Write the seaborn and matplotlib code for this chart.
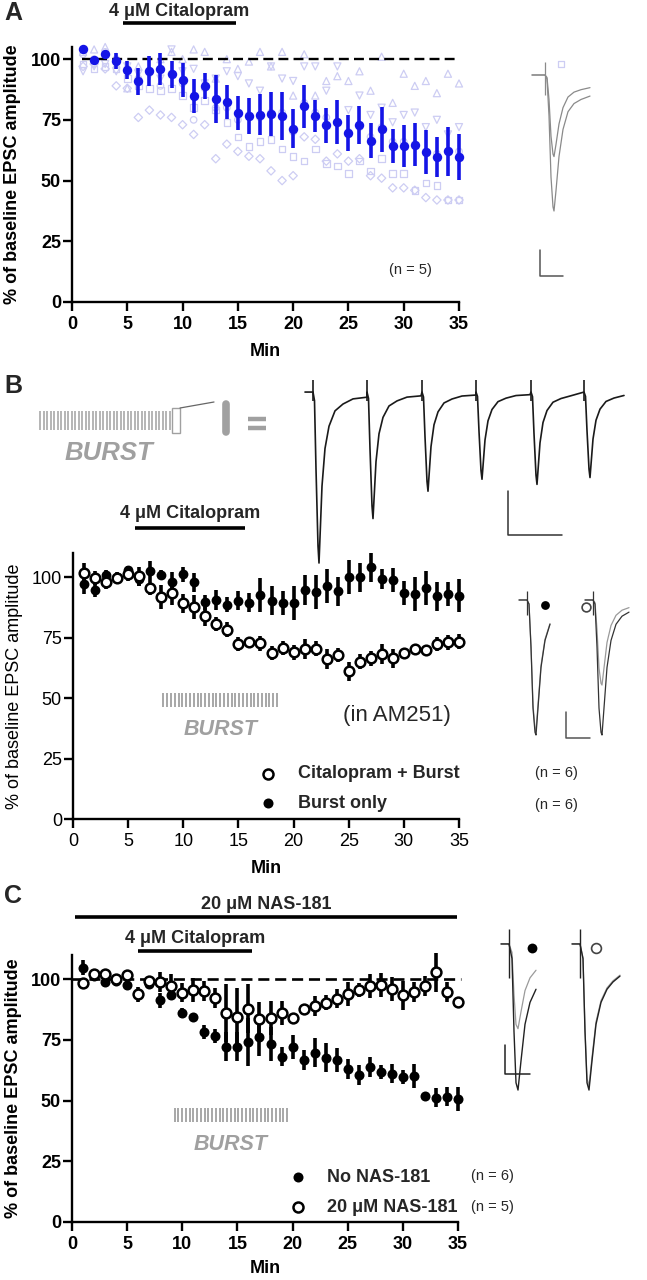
import numpy as np
import pandas as pd
import matplotlib
matplotlib.use("Agg")
import matplotlib.pyplot as plt
import seaborn as sns

sns.set_theme(style="ticks")
plt.rcParams["font.family"] = ["Liberation Sans", "DejaVu Sans"]

# ---------------- data ----------------
MINUTES = list(range(1, 36))
BASELINE = 100

# Panel A: mean +/- SEM and the five individual cells
A_MEAN = [104.1, 99.7, 102.3, 99.3, 95.6, 90.9, 95.2, 95.9, 93.7, 91.5, 85.0, 88.9, 83.5, 82.4, 77.7,
          76.6, 77.2, 77.4, 76.6, 71.4, 80.5, 76.6, 72.8, 74.1, 69.5, 72.8, 66.3, 71.1, 64.1, 64.1,
          64.8, 61.8, 59.8, 62.0, 59.6]
A_SEM = [0.5, 0.5, 0.5, 3.4, 3.8, 5.5, 6.2, 6.6, 5.5, 7.0, 7.0, 5.2, 10.0, 7.0, 7.0, 7.4, 8.3, 9.0,
         10.0, 8.0, 9.0, 6.6, 7.2, 9.0, 7.4, 7.8, 7.2, 9.3, 7.0, 8.7, 9.0, 9.0, 8.2, 10.0, 9.4]
A_CELL_UP = [103, 104, 105, 101, 88, 97, 96, 100, 103, 100, 104, 103, 92, 100, 96, 99, 103, 97, 103,
             85, 102, 85, 91, 93, 91, 95, 87, 101, 82, 94, 89, 91, 86, 94, 90]
A_CELL_DOWN = [95, 97, 98, 95, 97, 94, 93, 92, 104, 95, 96, 90, 92, 95, 93, 90, 87, 97, 92, 91, 97,
               97, 87, 97, 79, 85, 77, 80, 74, 77, 78, 72, 75, 69, 72]
A_CELL_DIAMOND = [97, 98, 96, 89, 88, 76, 79, 77, 76, 73, 69, 73, 59, 65, 62, 60, 59, 54, 50, 52, 68,
                  67, 58, 61, 58, 59, 52, 51, 47, 47, 46, 43, 42, 42, 42]
A_CELL_SQUARE = [98, 96, 97, 96, 92, 89, 88, 87, 88, 85, 80, 83, 79, 74, 68, 64, 66, 67, 63, 60, 58,
                 63, 57, 56, 53, 58, 54, 59, 53, 53, 46, 49, 48, 42, 42]
A_CELL_CIRCLE = [102, 100, 103, 100, 96, 92, 95, 89, 94, 90, 75, 88, 80, 80, 75, 77, 76, 78, 78, 70,
                 82, 78, 76, 74, 70, 72, 68, 72, 66, 66, 65, 62, 61, 62, 62]

# Panel B
B_CIT_BURST = [101.8, 99.7, 98.2, 99.6, 101.4, 100.3, 95.6, 91.7, 93.4, 89.2, 87.6, 83.8, 80.6, 78.3,
               72.3, 73.3, 72.6, 68.6, 70.7, 68.9, 70.3, 70.5, 66.1, 67.8, 61.0, 65.1, 66.4, 68.2,
               66.4, 68.5, 70.5, 69.8, 72.3, 73.0, 73.3]
B_CIT_BURST_SEM = [4, 3, 3, 2, 3, 4, 3, 5, 5, 4, 5, 4, 3, 3, 3, 2, 3, 3, 3, 3, 4, 3, 4, 3, 4, 3, 3, 4,
                   4, 2, 2, 2, 3, 3, 3]
B_BURST_ONLY = [97.0, 94.9, 101.0, 100.0, 102.8, 99.3, 102.5, 101.1, 98.2, 101.2, 97.9, 89.6, 90.6,
                88.7, 90.3, 89.4, 92.8, 90.3, 89.2, 89.2, 94.7, 93.8, 96.3, 94.1, 100.0, 100.0, 104.1,
                99.3, 98.8, 93.5, 93.1, 95.7, 92.1, 93.2, 92.4]
B_BURST_ONLY_SEM = [4, 3, 2, 2, 2, 3, 4, 2, 4, 3, 4, 3, 4, 3, 4, 4, 7, 6, 5, 7, 6, 7, 7, 6, 7, 6, 6, 4,
                    5, 5, 7, 7, 6, 5, 7]

# Panel C
C_NO_NAS = [104.8, 101.4, 98.9, 99.3, 97.5, 93.8, 98.2, 91.3, 93.4, 86.2, 84.5, 78.3, 76.6, 72.2,
            72.2, 74.1, 76.3, 73.2, 68.1, 72.2, 66.7, 69.7, 67.7, 66.7, 63.1, 60.5, 63.8, 61.8, 61.1,
            59.8, 60.1, 52.1, 51.2, 51.6, 50.8]
C_NO_NAS_SEM = [3, 2, 2, 2, 2, 3, 2, 3, 2, 2, 1, 3, 3, 6, 6, 10, 8, 7, 4, 5, 4, 6, 6, 5, 4, 4, 4, 3, 4,
                3, 5, 1, 4, 4, 5]
C_NAS = [98.6, 102.0, 102.3, 100.0, 101.7, 94.0, 99.3, 98.9, 97.2, 94.5, 95.6, 95.2, 92.2, 86.0, 84.6,
         87.9, 83.8, 84.2, 86.0, 84.2, 87.6, 89.0, 90.4, 92.0, 93.8, 95.6, 97.2, 97.7, 95.9, 93.4,
         94.8, 97.2, 102.8, 94.8, 90.8]
C_NAS_SEM = [2, 1, 2, 1, 1, 2, 2, 4, 5, 4, 5, 4, 4, 12, 12, 10, 7, 7, 5, 2, 2, 4, 3, 4, 5, 3, 5, 5, 5,
             6, 4, 4, 8, 4, 2]

# drug / stimulation periods (min)
A_CITALOPRAM = (4.6, 14.8)
B_CITALOPRAM = (5.6, 15.6)
B_BURST = (8.2, 18.5)
C_NAS_PERIOD = (0.3, 34.9)
C_CITALOPRAM = (6.0, 16.3)
C_BURST = (9.3, 19.5)

# example-trace waveforms (time in ms, current normalised to the largest peak)
SLOW_T = [0, 2, 4, 6, 8, 9, 11, 14, 18, 23, 29, 36, 45]
SLOW_V = [0, -0.03, -0.3, -0.75, -0.97, -1.0, -0.85, -0.6, -0.4, -0.27, -0.21, -0.18, -0.155]
FAST_T = [0, 1.5, 3, 5, 6, 7, 9, 12, 16, 22, 30, 40, 54]
FAST_V = [0, -0.05, -0.45, -0.9, -1.0, -0.85, -0.55, -0.33, -0.2, -0.11, -0.07, -0.04, -0.03]
MED_T = [0, 2, 4, 6, 8, 9, 11, 14, 18, 23, 29, 36, 48]
MED_V = [0, -0.03, -0.35, -0.8, -0.98, -1.0, -0.8, -0.5, -0.3, -0.18, -0.12, -0.09, -0.07]
C_T = [0, 3, 5, 7, 9, 12, 16, 21, 27, 33, 40, 50]
C_V = [0, -0.1, -0.6, -0.95, -1.0, -0.8, -0.55, -0.4, -0.31, -0.26, -0.22, -0.18]

A_TRACE_AMPS = [1.0, 0.6]
TRAIN_STIMS = [0, 54, 109, 163, 218, 271]
TRAIN_AMPS = [1.0, 0.74, 0.58, 0.51, 0.54, 0.50]
B_TRACE_STIMS = [0, 66]
B_TRACE_AMPS_BLACK = [1.0, 1.0]
B_TRACE_AMPS_GRAY = [0.97, 0.63]
C_TRACE_STIMS = [0, 71]
C_TRACE_AMPS_BLACK = [1.0, 1.0]
C_TRACE_AMPS_GRAY = [0.58, 0.97]

# ---------------- figure ----------------
W, H = 647, 1280
fig = plt.figure(figsize=(W / 100, H / 100), dpi=100)


def rect(x0, y0, x1, y1):
    return [x0 / W, 1 - y1 / H, (x1 - x0) / W, (y1 - y0) / H]


BLUE = "#1414e6"
LIGHT = "#cdcdf3"
GRAY = "#a0a0a0"


def style(ax, ymax, bold, lab_x, xlab_y):
    ax.set_facecolor("none")
    ax.set_xlim(0, 35)
    ax.set_ylim(0, ymax)
    ax.set_xticks(range(0, 36, 5))
    ax.set_yticks([0, 25, 50, 75, 100])
    for s in ["top", "right"]:
        ax.spines[s].set_visible(False)
    for s in ["left", "bottom"]:
        ax.spines[s].set_linewidth(1.7)
        ax.spines[s].set_color("black")
    ax.tick_params(length=6.5, width=1.7, color="black", labelsize=13, labelcolor="black")
    ax.tick_params(axis="x", pad=3.5)
    ax.tick_params(axis="y", pad=1.5)
    w = "bold" if bold else "normal"
    for lab in ax.get_xticklabels() + ax.get_yticklabels():
        lab.set_fontweight(w)
    ax.set_xlabel("Min", fontsize=13, fontweight="bold", color="black")
    ax.set_ylabel("% of baseline EPSC amplitude", fontsize=13, fontweight=w, color="black")
    ax.yaxis.set_label_coords(lab_x, 0.5)
    ax.xaxis.set_label_coords(0.5, xlab_y)


def means(ax, y, err, face, edge, s, zo):
    ax.errorbar(MINUTES, y, yerr=err, fmt="none", ecolor=edge, elinewidth=2.6, capsize=0,
                zorder=zo, clip_on=False)
    sns.scatterplot(x=MINUTES, y=y, ax=ax, s=s, marker="o", facecolor=face, edgecolor=edge,
                    linewidth=1.8 if face == "white" else 0, zorder=zo + 0.5, clip_on=False,
                    legend=False)


def period_bar(ax, span, y_bar, y_txt, label):
    ax.plot(list(span), [y_bar, y_bar], color="black", lw=2.6, clip_on=False,
            solid_capstyle="butt")
    ax.text(sum(span) / 2, y_txt, label, ha="center", va="center", fontsize=13,
            fontweight="bold", clip_on=False)


def burst_ticks(ax, span, y0, y1, txt_y):
    ax.vlines(np.linspace(span[0], span[1], 31), y0, y1, color=GRAY, lw=1.3)
    ax.text(sum(span) / 2, txt_y, "BURST", ha="center", va="center", fontsize=15.5,
            fontweight="bold", fontstyle="italic", color=GRAY)


# ---- Panel A ----
axA = fig.add_axes(rect(72, 47, 459, 302))
cells = [(A_CELL_UP, "^", 26), (A_CELL_DOWN, "v", 26), (A_CELL_DIAMOND, "D", 18),
         (A_CELL_SQUARE, "s", 22), (A_CELL_CIRCLE, "o", 22)]
for vals, mk, sz in cells:
    sns.scatterplot(x=MINUTES, y=vals, ax=axA, marker=mk, s=sz, facecolor="none",
                    edgecolor=LIGHT, linewidth=0.9, zorder=1, clip_on=False, legend=False)
axA.hlines(BASELINE, 0.9, 35, color="black", lw=1.7, linestyles=(0, (4.2, 2.2)), zorder=2)
means(axA, A_MEAN, A_SEM, BLUE, BLUE, 46, 4)
style(axA, 105, True, -0.132, -0.16)
period_bar(axA, A_CITALOPRAM, 114.9, 119.8, "4 μM Citalopram")
axA.text(30.6, 13.2, "(n = 5)", ha="center", va="center", fontsize=10.5)

# ---- Panel B ----
axB = fig.add_axes(rect(73, 553, 459, 819))
means(axB, B_BURST_ONLY, B_BURST_ONLY_SEM, "black", "black", 50, 3)
means(axB, B_CIT_BURST, B_CIT_BURST_SEM, "white", "black", 48, 5)
style(axB, 110, False, -0.13, -0.155)
period_bar(axB, B_CITALOPRAM, 120.5, 126.3, "4 μM Citalopram")
burst_ticks(axB, B_BURST, 46.5, 52.3, 37.0)
axB.text(29.4, 43.0, "(in AM251)", ha="center", va="center", fontsize=16)

# ---- Panel C ----
axC = fig.add_axes(rect(72, 955, 458, 1222))
axC.hlines(BASELINE, 0, 35.3, color="black", lw=1.9, linestyles=(0, (4.2, 2.2)), zorder=2,
           clip_on=False)
means(axC, C_NO_NAS, C_NO_NAS_SEM, "black", "black", 52, 3)
means(axC, C_NAS, C_NAS_SEM, "white", "black", 50, 5)
style(axC, 110, True, -0.13, -0.142)
period_bar(axC, C_NAS_PERIOD, 125.7, 131.0, "20 μM NAS-181")
period_bar(axC, C_CITALOPRAM, 111.7, 116.7, "4 μM Citalopram")
burst_ticks(axC, C_BURST, 41.3, 47.1, 32.0)


# ---------------- example traces ----------------
def inset(box, xlim, ylim):
    ax = fig.add_axes(rect(*box))
    ax.set_xlim(*xlim)
    ax.set_ylim(*ylim)
    ax.axis("off")
    return ax


def draw_trace(ax, stims, amps, tt, tv, t_start, t_end, color, lw):
    xs, ys = [t_start], [0.0]
    for i, (s, a) in enumerate(zip(stims, amps)):
        nxt = stims[i + 1] if i + 1 < len(stims) else t_end
        for t, v in zip(tt, tv):
            if s + t <= nxt:
                xs.append(s + t)
                ys.append(a * v)
    sns.lineplot(x=xs, y=ys, ax=ax, color=color, lw=lw, sort=False, estimator=None)


def scale_bar(ax, x, y_top, y_bot, x_end, color="#555555"):
    ax.plot([x, x, x_end], [y_top, y_bot, y_bot], color=color, lw=1.1)


# A trace
iA = inset((525, 55, 600, 285), (-20, 55), (-1.544, 0.147))
for amp in A_TRACE_AMPS:
    draw_trace(iA, [0], [amp], SLOW_T, SLOW_V, -13, 45, "#8a8a8a", 0.9)
iA.vlines(0, -0.15, 0.096, color="#8a8a8a", lw=0.9)
iA.scatter([16], [0.08], marker="s", s=22, facecolor="none", edgecolor=LIGHT, lw=0.9)
scale_bar(iA, -5, -1.287, -1.478, 18)

# B train
iT = inset((295, 370, 640, 575), (-18, 327), (-1.07, 0.129))
draw_trace(iT, TRAIN_STIMS, TRAIN_AMPS, FAST_T, FAST_V, -8, 317, "#1a1a1a", 1.2)
iT.vlines(TRAIN_STIMS, -0.05, 0.07, color="#1a1a1a", lw=1.2)
scale_bar(iT, 195, -0.579, -0.836, 249, "#333333")

# B pair
iB = inset((515, 585, 640, 745), (-12, 113), (-1.074, 0.111))
for i, s in enumerate(B_TRACE_STIMS):
    end = s + 24 if i == 0 else s + 40
    draw_trace(iB, [s], [B_TRACE_AMPS_GRAY[i]], MED_T, MED_V, s - 8, end, "#9a9a9a", 0.9)
    draw_trace(iB, [s], [B_TRACE_AMPS_BLACK[i]], MED_T, MED_V, s - 8, end, "#333333", 0.9)
iB.vlines(B_TRACE_STIMS, -0.11, 0.07, color="#333333", lw=0.9)
iB.scatter([18], [-0.037], s=40, color="black", lw=0)
iB.scatter([59], [-0.05], s=40, facecolor="white", edgecolor="#444444", lw=1.2)
scale_bar(iB, 39, -0.83, -1.022, 63)

# C pair
iC = inset((480, 920, 640, 1100), (-29, 131), (-1.068, 0.164))
for i, s in enumerate(C_TRACE_STIMS):
    end = s + 31 if i == 0 else s + 48
    draw_trace(iC, [s], [C_TRACE_AMPS_GRAY[i]], C_T, C_V, s - 8, end, "#9a9a9a", 0.9)
    draw_trace(iC, [s], [C_TRACE_AMPS_BLACK[i]], C_T, C_V, s - 8, end, "#222222", 1.0)
iC.vlines(C_TRACE_STIMS, -0.23, 0.1, color="#222222", lw=1.0)
iC.scatter([23], [-0.03], s=50, color="black", lw=0)
iC.scatter([87], [-0.03], s=50, facecolor="white", edgecolor="#444444", lw=1.2)
scale_bar(iC, -4, -0.69, -0.89, 21, "#222222")

# ---------------- overlay: letters, legends, burst schematic ----------------
ov = fig.add_axes([0, 0, 1, 1])
ov.set_xlim(0, W)
ov.set_ylim(H, 0)
ov.axis("off")

for letter, y in [("A", 13), ("B", 386), ("C", 896)]:
    ov.text(4, y, letter, fontsize=18, fontweight="bold", va="center", ha="left")

# burst schematic (panel B top)
ov.vlines(np.linspace(40, 170, 38), 411, 430, color=GRAY, lw=1.1)
ov.add_patch(plt.Rectangle((172, 408), 8, 25, fill=False, edgecolor=GRAY, lw=1.0))
ov.plot([180, 214], [408, 402], color="#666666", lw=0.9)
ov.plot([226, 226], [404, 432], color=GRAY, lw=5.5, solid_capstyle="round")
ov.plot([248, 266], [419, 419], color=GRAY, lw=3.2, solid_capstyle="butt")
ov.plot([248, 266], [428, 428], color=GRAY, lw=3.2, solid_capstyle="butt")
ov.text(109, 453, "BURST", fontsize=18.5, fontweight="bold", fontstyle="italic", color=GRAY,
        ha="center", va="center")

# legend B
ov.scatter([268], [774], s=52, facecolor="white", edgecolor="black", lw=1.8)
ov.scatter([268], [803], s=52, color="black", lw=0)
ov.text(298, 774, "Citalopram + Burst", fontsize=13, fontweight="bold", va="center")
ov.text(298, 803, "Burst only", fontsize=13, fontweight="bold", va="center")
ov.text(535, 773, "(n = 6)", fontsize=10.5, va="center")
ov.text(535, 805, "(n = 6)", fontsize=10.5, va="center")

# legend C
ov.scatter([298], [1177], s=52, color="black", lw=0)
ov.scatter([298], [1207], s=52, facecolor="white", edgecolor="black", lw=1.8)
ov.text(327, 1177, "No NAS-181", fontsize=13, fontweight="bold", va="center")
ov.text(327, 1207, "20 μM NAS-181", fontsize=13, fontweight="bold", va="center")
ov.text(471, 1176, "(n = 6)", fontsize=10.5, va="center")
ov.text(471, 1207, "(n = 5)", fontsize=10.5, va="center")

fig.savefig("out.png", dpi=100, facecolor="white")
